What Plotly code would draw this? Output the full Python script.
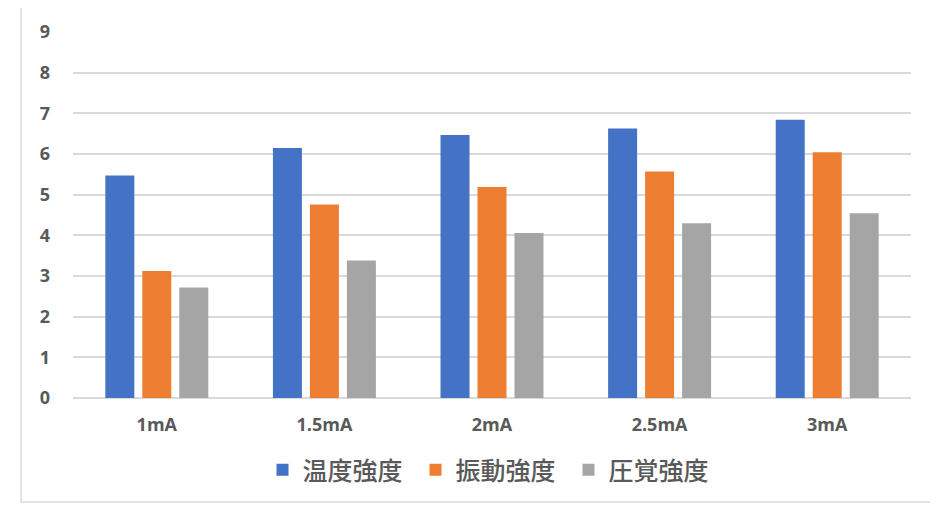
import plotly.graph_objects as go

categories = ["1mA", "1.5mA", "2mA", "2.5mA", "3mA"]
temp_vals = [5.47, 6.15, 6.47, 6.63, 6.84]
vib_vals = [3.12, 4.76, 5.19, 5.57, 6.04]
press_vals = [2.72, 3.38, 4.06, 4.30, 4.54]
series_names = ["温度強度", "振動強度", "圧覚強度"]
colors = ["#4472C4", "#ED7D31", "#A5A5A5"]
y_ticks = list(range(0, 10))

fig = go.Figure()
for name, vals, c in zip(series_names, [temp_vals, vib_vals, press_vals], colors):
    fig.add_trace(go.Bar(x=categories, y=vals, name=name, marker=dict(color=c, line=dict(width=0))))

tick_font = dict(family="Open Sans, Noto Sans, sans-serif", size=18, color="#595959", weight=700)

fig.update_layout(
    width=930, height=497,
    margin=dict(l=65, r=27, t=24, b=107),
    paper_bgcolor="white", plot_bgcolor="white",
    barmode="group", bargap=0.338, bargroupgap=0.216,
    showlegend=True,
    legend=dict(orientation="h", x=0.5, xanchor="center", y=-0.197, yanchor="middle",
                font=dict(family="Noto Sans CJK JP, sans-serif", size=25, color="#595959", weight=500),
                itemwidth=30, entrywidth=108, traceorder="normal"),
    xaxis=dict(showgrid=False, tickfont=tick_font, showline=False, ticks="", ticklabelstandoff=14),
    yaxis=dict(range=[0, 9], tickvals=y_ticks, showgrid=True, gridcolor="#D9D9D9", gridwidth=1.5,
               zeroline=True, zerolinecolor="#D9D9D9", zerolinewidth=1.5,
               tickfont=tick_font, ticks="", ticklabelstandoff=22, showline=False),
    shapes=[dict(type="rect", xref="paper", yref="paper", x0=-0.062, x1=1.04, y0=-0.284, y1=1.071,
                 line=dict(color="#D9D9D9", width=1.5), fillcolor="rgba(0,0,0,0)", layer="below")],
)

fig.write_html("out.html")
